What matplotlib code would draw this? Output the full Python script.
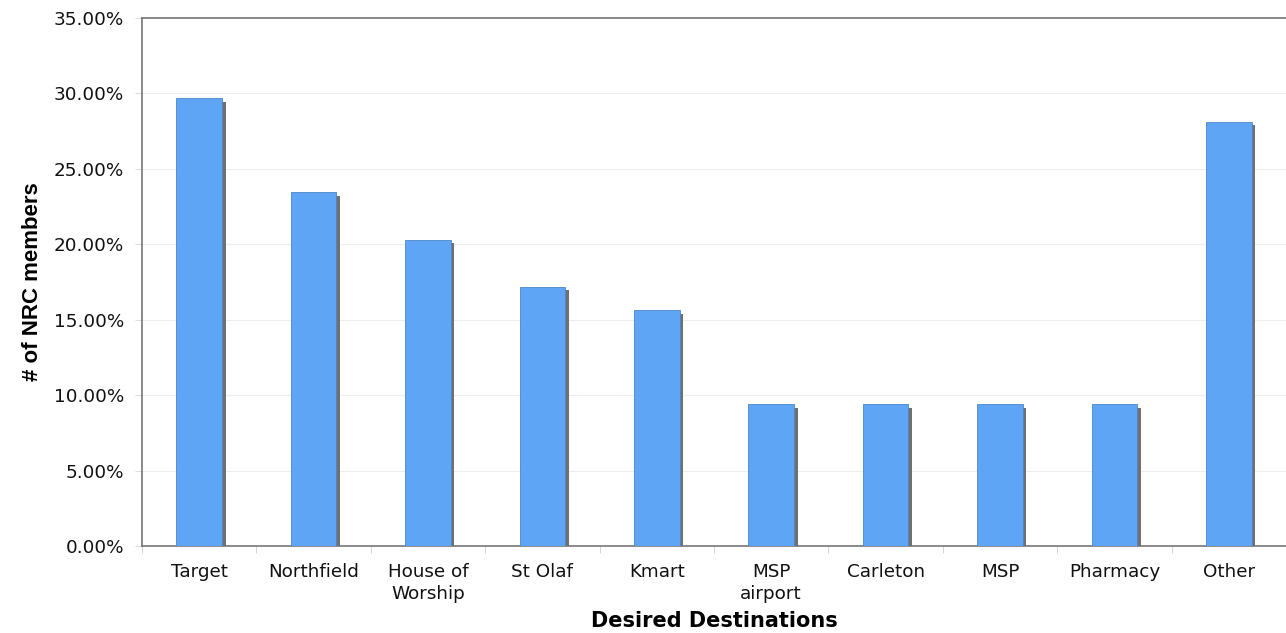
import matplotlib
matplotlib.use("Agg")
import matplotlib.pyplot as plt
import matplotlib.patheffects as pe
from matplotlib.ticker import FuncFormatter, FixedLocator
from matplotlib import font_manager
import numpy as np

plt.rcParams["font.family"] = ["DejaVu Sans"]

categories = ["Target", "Northfield", "House of\nWorship", "St Olaf", "Kmart",
              "MSP\nairport", "Carleton", "MSP", "Pharmacy", "Other"]
values = [29.69, 23.44, 20.31, 17.19, 15.63, 9.38, 9.38, 9.38, 9.38, 28.13]
yticks = [0, 5, 10, 15, 20, 25, 30, 35]

names = {f.name for f in font_manager.fontManager.ttflist}
narrow = "Liberation Sans Narrow" if "Liberation Sans Narrow" in names else "Liberation Sans"

fig = plt.figure(figsize=(12.86, 6.33), dpi=100)
ax = fig.add_axes([142/1286, 1-546/633, 1-142/1286, (546-18)/633])

x = np.arange(len(categories))
bars = ax.bar(x, values, width=0.4, color="#5ea5f6", edgecolor="#4a86c8",
              linewidth=0.6, zorder=3)
for b in bars:
    b.set_path_effects([pe.SimplePatchShadow(offset=(2.5, -2.5), shadow_rgbFace="#707070", alpha=1.0),
                        pe.Normal()])

ax.set_xlim(-0.5, len(categories) - 0.5)
ax.set_ylim(0, 35)
ax.set_yticks(yticks)
ax.yaxis.set_major_formatter(FuncFormatter(lambda v, p: f"{v:.2f}%"))
ax.grid(axis="y", color="#eeeeee", linewidth=0.8, zorder=0)

ax.set_xticks(x)
ax.set_xticklabels(categories, fontsize=13.2, linespacing=1.3, color="#111111")
ax.xaxis.set_minor_locator(FixedLocator(np.arange(-0.5, len(categories), 1.0)))
ax.tick_params(axis="x", which="major", length=0, pad=12)
ax.tick_params(axis="x", which="minor", length=5, color="#cccccc", direction="out")
ax.tick_params(axis="y", length=5, color="#dddddd", labelsize=13.2, pad=8, labelcolor="#111111")

for s in ["left", "bottom", "top"]:
    ax.spines[s].set_color("#777777")
    ax.spines[s].set_linewidth(1.2)
ax.spines["right"].set_visible(False)

ax.set_xlabel("Desired Destinations", fontsize=15, fontweight="bold", labelpad=6)
ax.set_ylabel("# of NRC members", fontsize=16, fontweight="bold",
              fontfamily=[narrow, "DejaVu Sans"], labelpad=8)

fig.savefig("out.png", dpi=100)
